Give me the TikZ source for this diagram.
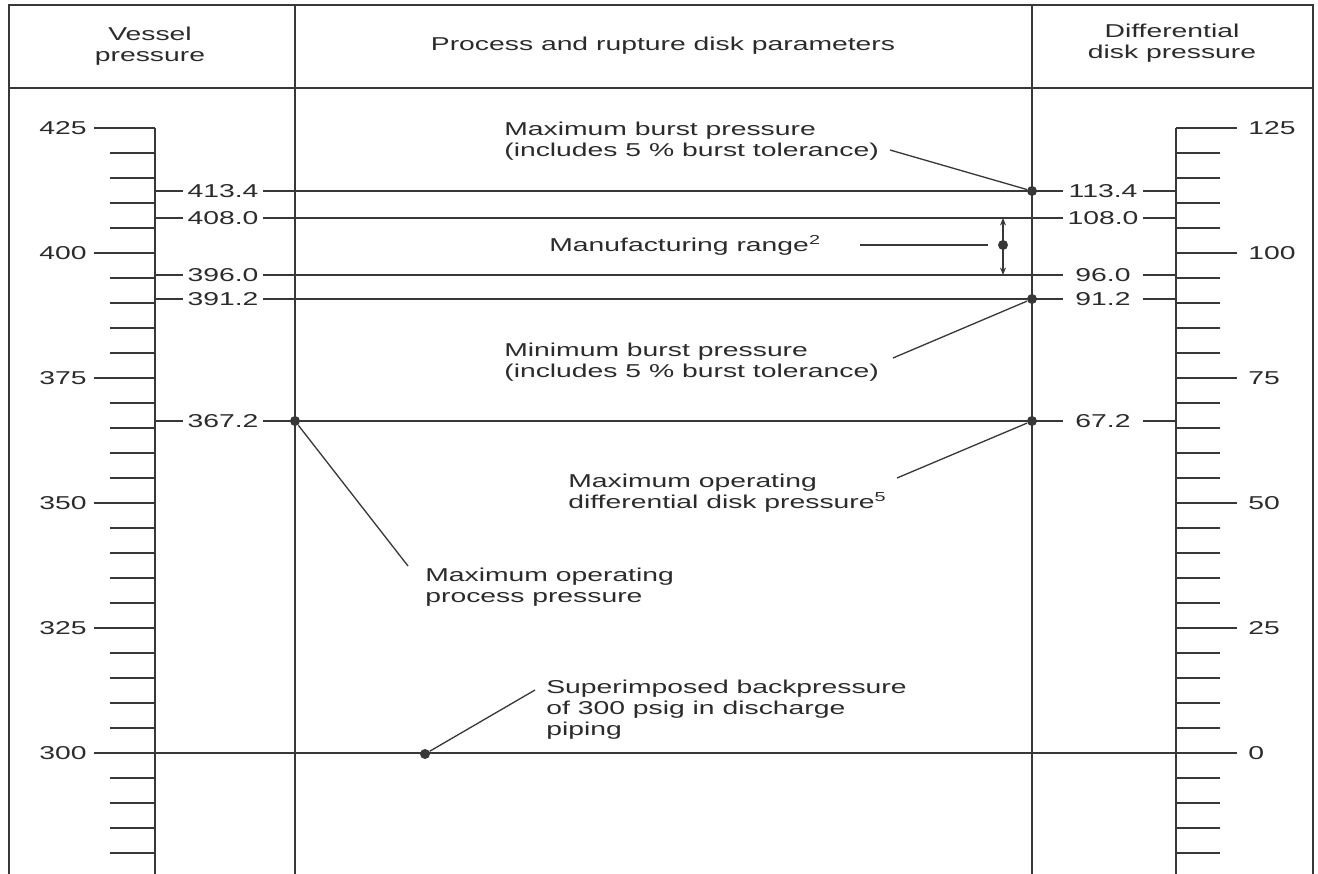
\documentclass[tikz,border=0pt]{standalone}
\usepackage{fontspec}
\setmainfont{Liberation Sans}[FakeStretch=1.52]
\usetikzlibrary{arrows.meta, positioning, calc}
\definecolor{InkGray}{rgb}{0.17, 0.17, 0.17}
\definecolor{LineGray}{rgb}{0.22, 0.22, 0.22}

\begin{document}
\begin{tikzpicture}[
    x=0.02cm, y=-0.02cm,
    font=\fontsize{10.6}{11.9}\selectfont,
    every node/.style={text=InkGray},
    frame/.style={draw=LineGray, line width=1.1pt},
    scaleline/.style={draw=LineGray, line width=0.95pt},
    leader/.style={draw=LineGray, line width=0.75pt},
    note/.style={align=left, anchor=west, inner sep=0pt},
    value/.style={minimum width=1.6cm, inner sep=0pt},
    dot/.style={circle, fill=LineGray, inner sep=0pt, minimum size=0.2cm},
]
\useasboundingbox (0,0) rectangle (1318,874);

% ---- marco y cabeceras ----
\draw[frame] (9,874) -- (9,5) -- (1313,5) -- (1313,874);
\draw[frame] (9,88) -- (1313,88);
\draw[frame] (295,5) -- (295,874);
\draw[frame] (1032,5) -- (1032,874);
\node[align=center] (hvessel) at (150,46) {Vessel\\pressure};
\node (hprocess) at (663,46) {Process and rupture disk parameters};
\node[align=center] (hdiff) at (1172,43) {Differential\\disk pressure};

% ---- escala izquierda ----
\coordinate (axL) at (155,128);
\coordinate (axLend) at (155,874);
\draw[scaleline] (axL) -- (axLend);
\foreach \v [evaluate=\v as \ty using 128+(425-\v)*5] in {280,285,...,425}
    \draw[scaleline] (110,\ty) -- (155,\ty);
\foreach \v [evaluate=\v as \ty using 128+(425-\v)*5] in {300,325,...,425}{
    \draw[scaleline] (94,\ty) -- (155,\ty);
    \node[anchor=east, inner sep=0pt] (lv\v) at (87,\ty) {\v};
}

% ---- escala derecha ----
\coordinate (axR) at (1176,128);
\coordinate (axRend) at (1176,874);
\draw[scaleline] (axR) -- (axRend);
\foreach \d [evaluate=\d as \ty using 128+(125-\d)*5] in {-20,-15,...,125}
    \draw[scaleline] (1176,\ty) -- (1220,\ty);
\foreach \d [evaluate=\d as \ty using 128+(125-\d)*5] in {0,25,...,125}{
    \draw[scaleline] (1176,\ty) -- (1237,\ty);
    \node[anchor=west, inner sep=0pt] (rv\d) at (1248,\ty) {\d};
}

% ---- lineas de presion ----
\draw[scaleline] (axL |- rv0) -- (axR |- rv0);
\foreach \y/\lv/\rv [count=\i] in {191/413.4/113.4, 218/408.0/108.0,
    275/396.0/96.0, 299/391.2/91.2, 421/367.2/67.2}{
    \node[value] (pl\i) at (223,\y) {\lv};
    \node[value] (pr\i) at (1103,\y) {\rv};
    \draw[scaleline] (axL |- pl\i) -- (pl\i.west);
    \draw[scaleline] (pl\i.east) -- (pr\i.west);
    \draw[scaleline] (pr\i.east) -- (axR |- pr\i);
}

% ---- puntos ----
\node[dot] (dmaxb) at (1032,191) {};
\node[dot] (dminb) at (1032,299) {};
\node[dot] (dmaxd) at (1032,421) {};
\node[dot] (dmaxp) at (295,421) {};
\node[dot] (dback) at (425,754) {};
\node[dot] (dmfg) at (1003,245) {};

% ---- rango de fabricacion ----
\coordinate (mtop) at (1003,218);
\coordinate (mbot) at (1003,275);
\draw[leader, {Stealth[length=1.5mm, width=1.2mm]}-{Stealth[length=1.5mm, width=1.2mm]}]
    (mtop) -- (mbot);

% ---- textos ----
\node[note] (nmaxb) at (504,141.5) {Maximum burst pressure\\(includes 5 \% burst tolerance)};
\node[note] (nmfg) at (549,245) {Manufacturing range\textsuperscript{2}};
\node[note] (nminb) at (504,362) {Minimum burst pressure\\(includes 5 \% burst tolerance)};
\node[note] (nmaxd) at (568,493) {Maximum operating\\differential disk pressure\textsuperscript{5}};
\node[note] (nmaxp) at (425,587.5) {Maximum operating\\process pressure};
\node[note] (nback) at (546,709.5) {Superimposed backpressure\\of 300 psig in discharge\\piping};

% ---- lineas guia ----
\coordinate (lmaxb) at (890,150);
\coordinate (lmfg) at (860,245);
\coordinate (lminb) at (893,358);
\coordinate (lmaxd) at (897,478);
\coordinate (lmaxp) at (408,566);
\coordinate (lback) at (535,690);
\draw[leader] (lmaxb) -- (dmaxb);
\draw[leader, shorten >=0.2cm] (lmfg) -- (dmfg);
\draw[leader] (lminb) -- (dminb);
\draw[leader] (lmaxd) -- (dmaxd);
\draw[leader] (lmaxp) -- (dmaxp);
\draw[leader] (lback) -- (dback);

\end{tikzpicture}
\end{document}
